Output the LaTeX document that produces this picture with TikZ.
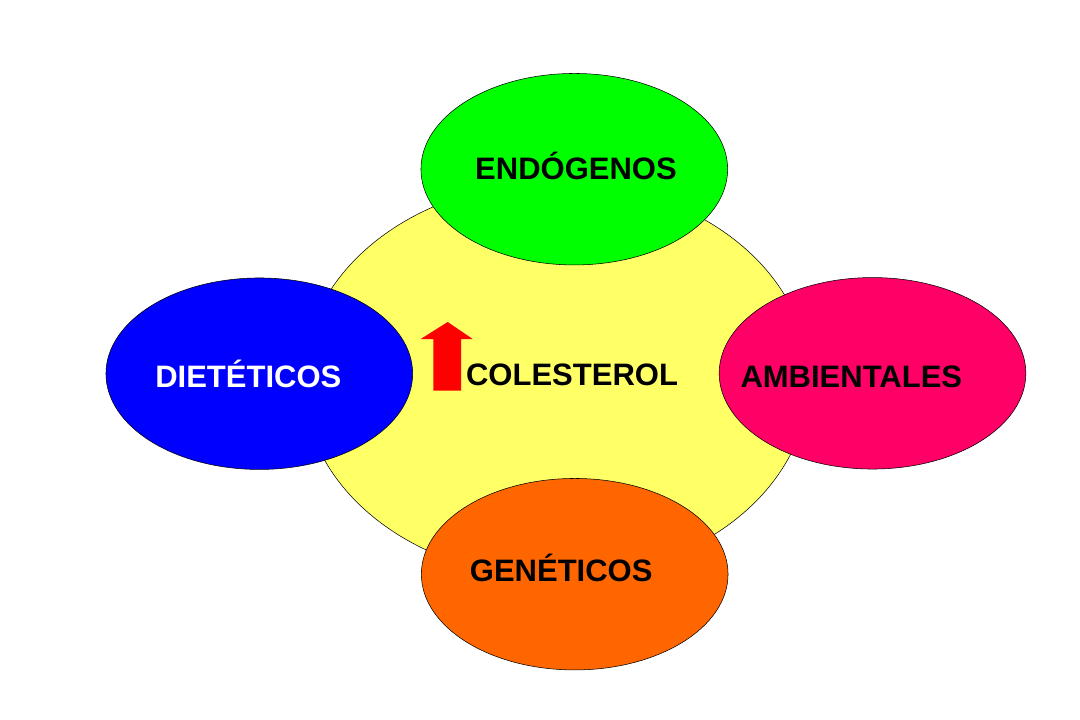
\documentclass[tikz,border=0pt]{standalone}
\usepackage{fontspec}
\setmainfont{Liberation Sans}
\usepackage{tikz}
\usetikzlibrary{shapes.geometric}

\tikzset{
  factor/.style={ellipse, draw, line width=0.4pt, inner sep=0pt, minimum width=230pt, minimum height=143.6pt},
  lbl/.style={anchor=base, inner sep=0pt, font=\fontsize{23.25}{28}\selectfont\bfseries}
}

\begin{document}
\begin{tikzpicture}[x=0.75pt,y=0.75pt,yscale=-1,xscale=1]
              \useasboundingbox (0,0) rectangle (1080,720);
              %Shape: Ellipse [centre]
              \node [ellipse, draw, line width=0.4pt, inner sep=0pt, minimum width=379.5pt, minimum height=297pt, fill={rgb, 255:red, 255; green, 255; blue, 102 }] (centro) at (556,380) {};
              %Shape: Ellipse [factors]
              \node [factor, fill={rgb, 255:red, 0; green, 255; blue, 0 }] (endo) at (574.3,169.2) {};
              \node [factor, fill={rgb, 255:red, 0; green, 0; blue, 255 }] (diet) at (259.3,373.7) {};
              \node [factor, fill={rgb, 255:red, 255; green, 0; blue, 102 }] (amb) at (872.5,373.3) {};
              \node [factor, fill={rgb, 255:red, 255; green, 102; blue, 0 }] (gen) at (574.7,574.2) {};
              %Shape: Up Arrow
              \fill [fill={rgb, 255:red, 255; green, 0; blue, 0 }] (447.7,322) -- (472.7,339) -- (461,339) -- (461,390.7) -- (433.3,390.7) -- (433.3,339) -- (420.7,339) -- cycle ;
              %Text labels
              \node [lbl] (tendo) at (576,179.3) {ENDÓGENOS};
              \node [lbl, text=white] (tdiet) at (248.3,387.7) {DIETÉTICOS};
              \node [lbl] (tamb) at (851.3,387.7) {AMBIENTALES};
              \node [lbl] (tgen) at (561.2,581.7) {GENÉTICOS};
              \node [lbl] (tcol) at (572,385) {COLESTEROL};
            \end{tikzpicture}
\end{document}
